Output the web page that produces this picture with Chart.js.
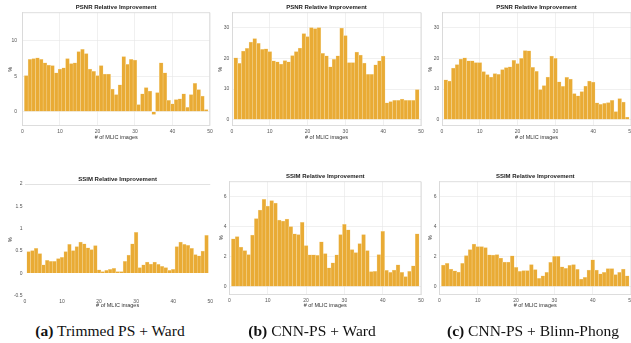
<!DOCTYPE html>
<html>
<head>
<meta charset="utf-8">
<script src="https://cdn.jsdelivr.net/npm/chart.js@4.4.1/dist/chart.umd.min.js"></script>
<style>
  html, body { margin: 0; padding: 0; background: #fff; width: 631px; height: 343px; overflow: hidden; position: relative; }
  .panel { position: absolute; }
  .cap { position: absolute; top: 322px; font-family: "Liberation Serif", "Times New Roman", serif; font-size: 15.5px; color: #111; white-space: nowrap; transform: translateX(-50%); }
</style>
</head>
<body>
<div class="panel" id="box-ta"><canvas id="chart-ta"></canvas></div>
<div class="panel" id="box-tb"><canvas id="chart-tb"></canvas></div>
<div class="panel" id="box-tc"><canvas id="chart-tc"></canvas></div>
<div class="panel" id="box-ba"><canvas id="chart-ba"></canvas></div>
<div class="panel" id="box-bb"><canvas id="chart-bb"></canvas></div>
<div class="panel" id="box-bc"><canvas id="chart-bc"></canvas></div>
<div class="cap" style="left:110px"><b>(a)</b> Trimmed PS + Ward</div>
<div class="cap" style="left:312px"><b>(b)</b> CNN-PS + Ward</div>
<div class="cap" style="left:533px"><b>(c)</b> CNN-PS + Blinn-Phong</div>
<script>
  // number of MLIC images (bar positions)
  const imageCounts = [1, 2, 3, 4, 5, 6, 7, 8, 9, 10, 11, 12, 13, 14, 15, 16, 17, 18, 19, 20,
    21, 22, 23, 24, 25, 26, 27, 28, 29, 30, 31, 32, 33, 34, 35, 36, 37, 38, 39, 40,
    41, 42, 43, 44, 45, 46, 47, 48, 49];

  const psnrTrimmedWard = [5.1, 7.4, 7.5, 7.6, 7.4, 6.9, 6.6, 6.5, 5.5, 6.0, 6.2, 7.5, 6.8, 6.9, 8.5, 8.8, 8.2, 6.0, 5.7, 5.1,
    6.5, 5.3, 5.3, 3.2, 2.4, 3.8, 7.8, 6.7, 7.4, 7.3, 1.0, 2.5, 3.4, 2.9, -0.4, 2.7, 6.9, 5.5, 1.6, 1.1,
    1.7, 1.8, 2.5, 0.6, 2.4, 4.0, 3.1, 2.2, 0.3];
  const psnrCnnWard = [20.2, 18.4, 22.4, 23.3, 25.4, 26.5, 25.0, 23.0, 23.2, 22.3, 19.2, 18.9, 18.2, 19.3, 18.9, 21.0, 22.3, 23.4, 28.2, 27.2,
    30.1, 29.8, 30.1, 21.7, 20.9, 17.3, 19.7, 20.9, 30.0, 27.5, 18.7, 18.7, 22.1, 21.1, 18.5, 14.8, 14.8, 17.9, 19.2, 20.8,
    5.5, 5.9, 6.3, 6.3, 6.7, 6.3, 6.3, 6.3, 9.8];
  const psnrCnnBlinn = [13.0, 12.6, 16.9, 18.0, 19.8, 20.2, 19.2, 19.2, 18.7, 18.7, 15.7, 14.7, 13.9, 15.1, 14.8, 16.4, 17.0, 17.3, 19.4, 18.3,
    20.1, 22.6, 22.5, 17.1, 15.8, 9.8, 11.1, 13.9, 20.8, 20.1, 12.4, 10.9, 13.8, 13.3, 8.5, 7.8, 9.2, 11.0, 12.6, 12.3,
    5.5, 5.0, 5.3, 5.6, 6.3, 2.6, 6.9, 5.7, 0.8];

  const ssimTrimmedWard = [0.49, 0.51, 0.56, 0.44, 0.19, 0.29, 0.27, 0.27, 0.33, 0.36, 0.49, 0.65, 0.51, 0.60, 0.70, 0.66, 0.57, 0.53, 0.62, 0.08,
    0.04, 0.07, 0.09, 0.11, 0.04, 0.04, 0.27, 0.41, 0.66, 0.92, 0.13, 0.19, 0.25, 0.21, 0.25, 0.20, 0.16, 0.13, 0.07, 0.09,
    0.60, 0.70, 0.65, 0.63, 0.56, 0.42, 0.39, 0.50, 0.85];
  const ssimCnnWard = [3.19, 3.34, 2.64, 2.40, 2.13, 3.43, 4.53, 5.10, 5.82, 5.38, 5.74, 5.58, 4.44, 4.37, 4.50, 4.00, 3.52, 3.47, 4.29, 2.73,
    2.11, 2.11, 2.09, 2.99, 2.20, 1.25, 1.58, 2.11, 3.47, 4.15, 3.78, 2.46, 2.26, 2.86, 3.47, 2.40, 0.99, 1.01, 2.13, 3.69,
    1.08, 0.95, 1.10, 1.45, 0.95, 0.66, 1.01, 1.38, 3.52];
  const ssimCnnBlinn = [1.43, 1.54, 1.17, 1.04, 0.97, 1.54, 2.07, 2.47, 2.83, 2.67, 2.67, 2.60, 2.12, 2.10, 2.14, 1.90, 1.63, 1.63, 2.05, 1.28,
    1.01, 1.06, 1.06, 1.46, 1.13, 0.55, 0.71, 0.95, 1.61, 2.01, 2.01, 1.32, 1.21, 1.41, 1.46, 1.15, 0.49, 0.62, 1.10, 1.79,
    1.10, 0.84, 0.95, 1.19, 1.19, 0.79, 0.95, 1.17, 0.71];

  const xTicks = [0, 10, 20, 30, 40, 50];
  const psnrSmallTicks = [0, 5, 10];
  const psnrTicks = [0, 10, 20, 30];
  const ssimSmallTicks = [-0.5, 0, 0.5, 1, 1.5, 2];
  const ssimTicks = [0, 2, 4, 6];

  const BAR_COLOR = '#E9AB35';
  const BAR_EDGE = '#F5DCA6';
  const GRID = '#E6E6E6';
  const FRAME = '#D4D4D4';

  Chart.defaults.font.family = '"Liberation Sans", Arial, sans-serif';
  Chart.defaults.color = '#555';

  // light box on the top and right sides of the axes
  const framePlugin = {
    id: 'frame',
    afterDraw(chart, args, opts) {
      if (!opts.show) return;
      const { ctx, chartArea: a } = chart;
      ctx.save();
      ctx.strokeStyle = FRAME;
      ctx.lineWidth = 0.8;
      ctx.beginPath();
      ctx.moveTo(a.left, a.top);
      ctx.lineTo(a.right, a.top);
      ctx.lineTo(a.right, a.bottom);
      ctx.stroke();
      ctx.restore();
    },
  };

  function makePanel(p) {
    const box = document.getElementById('box-' + p.id);
    box.style.left = p.box[0] + 'px';
    box.style.top = p.box[1] + 'px';
    box.style.width = p.box[2] + 'px';
    box.style.height = p.box[3] + 'px';

    const [l, t, r, b] = p.area;
    const yW = l - p.box[0];
    const padRight = p.box[0] + p.box[2] - r;
    const xH = p.box[1] + p.box[3] - b;
    const lean = p.lean;

    new Chart(document.getElementById('chart-' + p.id), {
      type: 'bar',
      data: {
        datasets: [{
          data: imageCounts.map((n, i) => ({ x: n, y: p.values[i] })),
          backgroundColor: BAR_COLOR,
          borderColor: BAR_EDGE,
          borderWidth: 0.5,
          barPercentage: 1,
          categoryPercentage: 1,
        }],
      },
      options: {
        responsive: true,
        maintainAspectRatio: false,
        animation: false,
        layout: { padding: { left: 0, right: padRight, top: 0, bottom: 0 } },
        plugins: {
          legend: { display: false },
          tooltip: { enabled: false },
          title: {
            display: true,
            text: p.title,
            fullSize: false,
            color: '#222',
            font: { size: 6, weight: 'bold' },
            padding: { top: p.titlePad[0], bottom: p.titlePad[1] },
          },
          frame: { show: !lean },
        },
        scales: {
          x: {
            type: 'linear',
            min: 0,
            max: 50,
            offset: false,
            afterBuildTicks: (s) => { s.ticks = xTicks.map((v) => ({ value: v })); },
            afterFit: (s) => { s.height = xH; },
            ticks: { font: { size: 5 }, padding: p.xTickPad, maxRotation: 0, autoSkip: false },
            grid: { display: !lean, offset: false, color: GRID, lineWidth: 0.6, drawTicks: false },
            border: { display: !lean, color: FRAME, width: 0.8 },
            title: { display: true, text: '# of MLIC images', color: '#333', font: { size: 5.5 }, padding: { top: 0, bottom: p.xTitlePad } },
          },
          y: {
            min: p.yRange[0],
            max: p.yRange[1],
            afterBuildTicks: (s) => { s.ticks = p.yTicks.map((v) => ({ value: v })); },
            afterFit: (s) => { s.width = yW; },
            ticks: { font: { size: 5 }, padding: p.yTickPad, callback: (v) => String(v) },
            grid: {
              color: lean ? (c) => (c.tick && c.tick.value === p.yRange[1] ? '#CFCFCF' : 'rgba(0,0,0,0)') : GRID,
              lineWidth: 0.6,
              drawTicks: false,
            },
            border: { display: !lean, color: FRAME, width: 0.8 },
            title: { display: true, text: '%', color: '#333', font: { size: 5.5 }, padding: { top: p.yTitlePad, bottom: 0 } },
          },
        },
      },
      plugins: [framePlugin],
    });
  }

  const psnrTitle = 'PSNR Relative Improvement';
  const ssimTitle = 'SSIM Relative Improvement';

  makePanel({ id: 'ta', box: [0, 0, 216, 142], area: [22.5, 12.7, 211, 125.7], values: psnrTrimmedWard,
    title: psnrTitle, titlePad: [3.9, 1.6], yRange: [-2, 14], yTicks: psnrSmallTicks,
    xTickPad: 3.3, xTitlePad: 1.7, yTickPad: 5.5, yTitlePad: 6.7 });
  makePanel({ id: 'tb', box: [212, 0, 216, 142], area: [232, 12.7, 421, 125.7], values: psnrCnnWard,
    title: psnrTitle, titlePad: [3.9, 1.6], yRange: [-2, 35], yTicks: psnrTicks,
    xTickPad: 3.3, xTitlePad: 1.7, yTickPad: 2.7, yTitlePad: 5.4 });
  makePanel({ id: 'tc', box: [422, 0, 218, 142], area: [442, 12.7, 631, 125.7], values: psnrCnnBlinn,
    title: psnrTitle, titlePad: [3.9, 1.6], yRange: [-2, 35], yTicks: psnrTicks,
    xTickPad: 3.3, xTitlePad: 1.7, yTickPad: 2.7, yTitlePad: 4.7 });
  makePanel({ id: 'ba', box: [0, 168, 216, 144], area: [25, 184, 211, 295.7], values: ssimTrimmedWard, lean: true,
    title: ssimTitle, titlePad: [7.7, 1.1], yRange: [-0.5, 2], yTicks: ssimSmallTicks,
    xTickPad: 3, xTitlePad: 3, yTickPad: 2.5, yTitlePad: 6.7 });
  makePanel({ id: 'bb', box: [212, 168, 216, 144], area: [229.5, 181.7, 421, 294], values: ssimCnnWard,
    title: ssimTitle, titlePad: [4.4, 2.1], yRange: [-0.5, 7], yTicks: ssimTicks,
    xTickPad: 3.7, xTitlePad: 3, yTickPad: 3, yTitlePad: 6.4 });
  makePanel({ id: 'bc', box: [422, 168, 218, 144], area: [439.5, 181.7, 631, 294], values: ssimCnnBlinn,
    title: ssimTitle, titlePad: [4.4, 2.1], yRange: [-0.5, 7], yTicks: ssimTicks,
    xTickPad: 3.7, xTitlePad: 3, yTickPad: 3, yTitlePad: 5.4 });
</script>
</body>
</html>
